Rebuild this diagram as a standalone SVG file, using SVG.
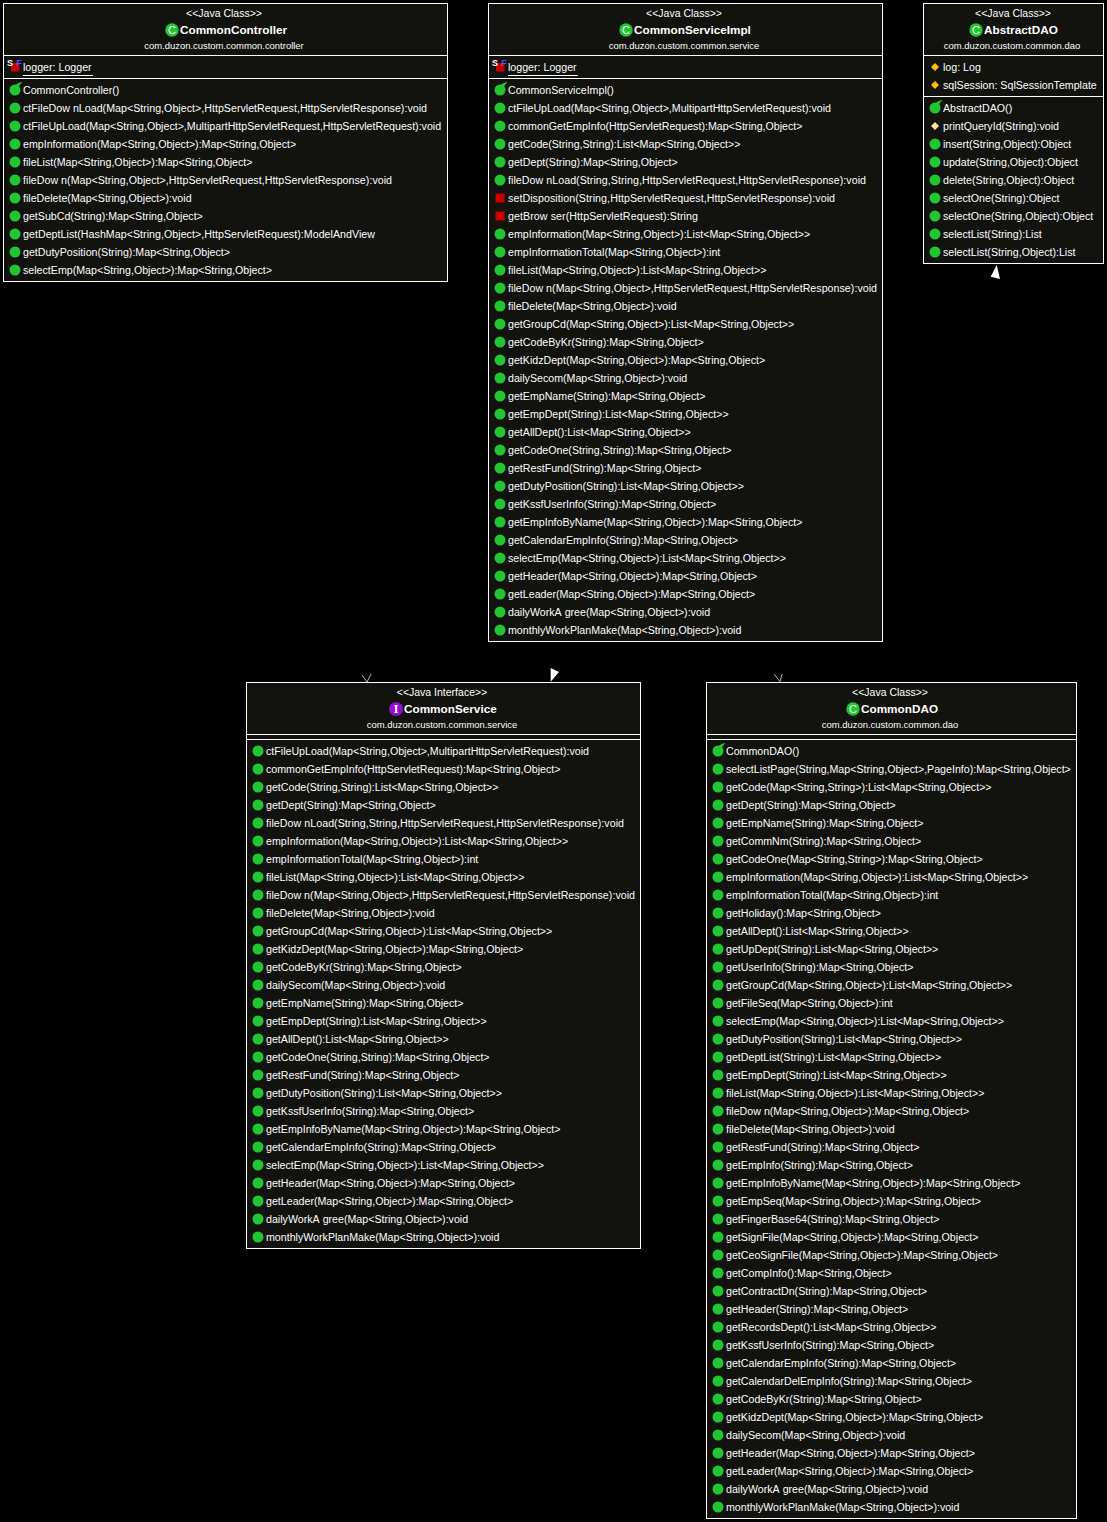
<svg xmlns="http://www.w3.org/2000/svg" width="1107" height="1522" viewBox="0 0 1107 1522">
<style>
text{font-family:"Liberation Sans",Arial,sans-serif;fill:#fff;font-size:10.65px}
.b{fill:#12120f;stroke:#fff;stroke-width:1}
.s{stroke:#fff;stroke-width:1;fill:none}
.st{text-anchor:middle;font-size:10.5px}
.n{font-weight:bold;font-size:11.75px}
.p{text-anchor:middle;font-size:9.45px}
.g{fill:#22c632}
.r{fill:#c80000}
.y{fill:#fcc200}
.yl{fill:#ffe29a}
.l{font-size:11px;fill:#fff;text-anchor:middle}
.i{font-family:"Liberation Serif",serif;font-size:12px;font-weight:bold}
.sf{font-size:9px;font-weight:bold}
</style>
<defs>
<circle id="m" r="5.5" class="g"/>
<g id="k"><circle r="5.5" class="g"/><path d="M0.500 -4.500Q2.500 -7.500 7.500 -8Q4.500 -5.500 4 -2.500Z" class="g"/></g>
<rect id="q" x="-4.500" y="-4.500" width="9" height="9" class="r"/>
<path id="d" d="M0 -4L4 0L0 4L-4 0Z" class="y"/>
<path id="dl" d="M0 -4L4 0L0 4L-4 0Z" class="yl"/>
<g id="sfm"><rect x="-4" y="-3" width="8.500" height="8.500" class="r"/><text x="-5" y="-0.500" class="sf" text-anchor="middle">S</text><text x="4" y="-0.500" class="sf" text-anchor="middle" style="fill:#4a5cff">F</text></g>
</defs>
<rect width="1107" height="1522" fill="#000"/>
<g id="connectors">
<path class="s" d="M362 675L367 682L371 674" style="stroke:#bbb"/>
<path d="M550.700 668L559 672L550.700 681.700Z" fill="#fff"/>
<path class="s" d="M774 674L780 681.700L782 674" style="stroke:#bbb"/>
<path d="M996.700 265L990.700 276.700L1000 279Z" fill="#fff"/>
</g>
<g id="CommonController">
<rect class="b" x="3.500" y="3.500" width="444" height="278"/>
<path class="s" d="M3.500 55.500H447.500M3.500 78.500H447.500M23 75.500H93"/>
<text class="st" x="224" y="17">&lt;&lt;Java Class&gt;&gt;</text>
<circle cx="172" cy="30" r="6.700" class="g"/><text class="l" x="172" y="34">C</text>
<text class="n" x="180" y="34">CommonController</text>
<text class="p" x="224" y="49">com.duzon.custom.common.controller</text>
<use href="#sfm" x="15" y="66"/><text x="23" y="71">logger: Logger</text>
<use href="#k" x="15" y="90"/><text x="23" y="94">CommonController()</text>
<use href="#m" x="15" y="108"/><text x="23" y="112" textLength="404">ctFileDow<tspan dx="3">n</tspan>Load(Map&lt;String,Object&gt;,HttpServletRequest,HttpServletResponse):void</text>
<use href="#m" x="15" y="126"/><text x="23" y="130">ctFileUpLoad(Map&lt;String,Object&gt;,MultipartHttpServletRequest,HttpServletRequest):void</text>
<use href="#m" x="15" y="144"/><text x="23" y="148">empInformation(Map&lt;String,Object&gt;):Map&lt;String,Object&gt;</text>
<use href="#m" x="15" y="162"/><text x="23" y="166">fileList(Map&lt;String,Object&gt;):Map&lt;String,Object&gt;</text>
<use href="#m" x="15" y="180"/><text x="23" y="184" textLength="369">fileDow<tspan dx="3">n</tspan>(Map&lt;String,Object&gt;,HttpServletRequest,HttpServletResponse):void</text>
<use href="#m" x="15" y="198"/><text x="23" y="202">fileDelete(Map&lt;String,Object&gt;):void</text>
<use href="#m" x="15" y="216"/><text x="23" y="220">getSubCd(String):Map&lt;String,Object&gt;</text>
<use href="#m" x="15" y="234"/><text x="23" y="238" textLength="352">getDeptList(HashMap&lt;String,Object&gt;,HttpServletRequest):ModelAndView</text>
<use href="#m" x="15" y="252"/><text x="23" y="256">getDutyPosition(String):Map&lt;String,Object&gt;</text>
<use href="#m" x="15" y="270"/><text x="23" y="274">selectEmp(Map&lt;String,Object&gt;):Map&lt;String,Object&gt;</text>
</g>
<g id="CommonServiceImpl">
<rect class="b" x="488.500" y="3.500" width="394" height="638"/>
<path class="s" d="M488.500 55.500H882.500M488.500 78.500H882.500M508 75.500H578"/>
<text class="st" x="684" y="17">&lt;&lt;Java Class&gt;&gt;</text>
<circle cx="626" cy="30" r="6.700" class="g"/><text class="l" x="626" y="34">C</text>
<text class="n" x="634" y="34">CommonServiceImpl</text>
<text class="p" x="684" y="49">com.duzon.custom.common.service</text>
<use href="#sfm" x="500" y="66"/><text x="508" y="71">logger: Logger</text>
<use href="#k" x="500" y="90"/><text x="508" y="94">CommonServiceImpl()</text>
<use href="#m" x="500" y="108"/><text x="508" y="112">ctFileUpLoad(Map&lt;String,Object&gt;,MultipartHttpServletRequest):void</text>
<use href="#m" x="500" y="126"/><text x="508" y="130">commonGetEmpInfo(HttpServletRequest):Map&lt;String,Object&gt;</text>
<use href="#m" x="500" y="144"/><text x="508" y="148">getCode(String,String):List&lt;Map&lt;String,Object&gt;&gt;</text>
<use href="#m" x="500" y="162"/><text x="508" y="166">getDept(String):Map&lt;String,Object&gt;</text>
<use href="#m" x="500" y="180"/><text x="508" y="184" textLength="358">fileDow<tspan dx="3">n</tspan>Load(String,String,HttpServletRequest,HttpServletResponse):void</text>
<use href="#q" x="500" y="198"/><text x="508" y="202" textLength="327">setDisposition(String,HttpServletRequest,HttpServletResponse):void</text>
<use href="#q" x="500" y="216"/><text x="508" y="220" textLength="190">getBrow<tspan dx="3">s</tspan>er(HttpServletRequest):String</text>
<use href="#m" x="500" y="234"/><text x="508" y="238">empInformation(Map&lt;String,Object&gt;):List&lt;Map&lt;String,Object&gt;&gt;</text>
<use href="#m" x="500" y="252"/><text x="508" y="256">empInformationTotal(Map&lt;String,Object&gt;):int</text>
<use href="#m" x="500" y="270"/><text x="508" y="274">fileList(Map&lt;String,Object&gt;):List&lt;Map&lt;String,Object&gt;&gt;</text>
<use href="#m" x="500" y="288"/><text x="508" y="292" textLength="369">fileDow<tspan dx="3">n</tspan>(Map&lt;String,Object&gt;,HttpServletRequest,HttpServletResponse):void</text>
<use href="#m" x="500" y="306"/><text x="508" y="310">fileDelete(Map&lt;String,Object&gt;):void</text>
<use href="#m" x="500" y="324"/><text x="508" y="328">getGroupCd(Map&lt;String,Object&gt;):List&lt;Map&lt;String,Object&gt;&gt;</text>
<use href="#m" x="500" y="342"/><text x="508" y="346">getCodeByKr(String):Map&lt;String,Object&gt;</text>
<use href="#m" x="500" y="360"/><text x="508" y="364">getKidzDept(Map&lt;String,Object&gt;):Map&lt;String,Object&gt;</text>
<use href="#m" x="500" y="378"/><text x="508" y="382">dailySecom(Map&lt;String,Object&gt;):void</text>
<use href="#m" x="500" y="396"/><text x="508" y="400">getEmpName(String):Map&lt;String,Object&gt;</text>
<use href="#m" x="500" y="414"/><text x="508" y="418">getEmpDept(String):List&lt;Map&lt;String,Object&gt;&gt;</text>
<use href="#m" x="500" y="432"/><text x="508" y="436">getAllDept():List&lt;Map&lt;String,Object&gt;&gt;</text>
<use href="#m" x="500" y="450"/><text x="508" y="454">getCodeOne(String,String):Map&lt;String,Object&gt;</text>
<use href="#m" x="500" y="468"/><text x="508" y="472">getRestFund(String):Map&lt;String,Object&gt;</text>
<use href="#m" x="500" y="486"/><text x="508" y="490">getDutyPosition(String):List&lt;Map&lt;String,Object&gt;&gt;</text>
<use href="#m" x="500" y="504"/><text x="508" y="508">getKssfUserInfo(String):Map&lt;String,Object&gt;</text>
<use href="#m" x="500" y="522"/><text x="508" y="526">getEmpInfoByName(Map&lt;String,Object&gt;):Map&lt;String,Object&gt;</text>
<use href="#m" x="500" y="540"/><text x="508" y="544">getCalendarEmpInfo(String):Map&lt;String,Object&gt;</text>
<use href="#m" x="500" y="558"/><text x="508" y="562">selectEmp(Map&lt;String,Object&gt;):List&lt;Map&lt;String,Object&gt;&gt;</text>
<use href="#m" x="500" y="576"/><text x="508" y="580">getHeader(Map&lt;String,Object&gt;):Map&lt;String,Object&gt;</text>
<use href="#m" x="500" y="594"/><text x="508" y="598">getLeader(Map&lt;String,Object&gt;):Map&lt;String,Object&gt;</text>
<use href="#m" x="500" y="612"/><text x="508" y="616">dailyWorkA<tspan dx="3">g</tspan>ree(Map&lt;String,Object&gt;):void</text>
<use href="#m" x="500" y="630"/><text x="508" y="634">monthlyWorkPlanMake(Map&lt;String,Object&gt;):void</text>
</g>
<g id="AbstractDAO">
<rect class="b" x="923.500" y="3.500" width="180" height="260"/>
<path class="s" d="M923.500 55.500H1103.500M923.500 96.500H1103.500"/>
<text class="st" x="1013" y="17">&lt;&lt;Java Class&gt;&gt;</text>
<circle cx="976" cy="30" r="6.700" class="g"/><text class="l" x="976" y="34">C</text>
<text class="n" x="984" y="34">AbstractDAO</text>
<text class="p" x="1012" y="49">com.duzon.custom.common.dao</text>
<use href="#d" x="935" y="67"/><text x="943" y="71">log: Log</text>
<use href="#d" x="935" y="85"/><text x="943" y="89">sqlSession: SqlSessionTemplate</text>
<use href="#k" x="935" y="108"/><text x="943" y="112">AbstractDAO()</text>
<use href="#dl" x="935" y="126"/><text x="943" y="130">printQueryId(String):void</text>
<use href="#m" x="935" y="144"/><text x="943" y="148">insert(String,Object):Object</text>
<use href="#m" x="935" y="162"/><text x="943" y="166">update(String,Object):Object</text>
<use href="#m" x="935" y="180"/><text x="943" y="184">delete(String,Object):Object</text>
<use href="#m" x="935" y="198"/><text x="943" y="202">selectOne(String):Object</text>
<use href="#m" x="935" y="216"/><text x="943" y="220">selectOne(String,Object):Object</text>
<use href="#m" x="935" y="234"/><text x="943" y="238">selectList(String):List</text>
<use href="#m" x="935" y="252"/><text x="943" y="256">selectList(String,Object):List</text>
</g>
<g id="CommonService">
<rect class="b" x="246.500" y="682.500" width="394" height="566"/>
<path class="s" d="M246.500 734.500H640.500M246.500 739.500H640.500"/>
<text class="st" x="442" y="696">&lt;&lt;Java Interface&gt;&gt;</text>
<circle cx="396" cy="709" r="7" fill="#9210cc"/><text class="l i" x="396" y="713">I</text>
<text class="n" x="404" y="713">CommonService</text>
<text class="p" x="442" y="728">com.duzon.custom.common.service</text>
<use href="#m" x="258" y="751"/><text x="266" y="755">ctFileUpLoad(Map&lt;String,Object&gt;,MultipartHttpServletRequest):void</text>
<use href="#m" x="258" y="769"/><text x="266" y="773">commonGetEmpInfo(HttpServletRequest):Map&lt;String,Object&gt;</text>
<use href="#m" x="258" y="787"/><text x="266" y="791">getCode(String,String):List&lt;Map&lt;String,Object&gt;&gt;</text>
<use href="#m" x="258" y="805"/><text x="266" y="809">getDept(String):Map&lt;String,Object&gt;</text>
<use href="#m" x="258" y="823"/><text x="266" y="827" textLength="358">fileDow<tspan dx="3">n</tspan>Load(String,String,HttpServletRequest,HttpServletResponse):void</text>
<use href="#m" x="258" y="841"/><text x="266" y="845">empInformation(Map&lt;String,Object&gt;):List&lt;Map&lt;String,Object&gt;&gt;</text>
<use href="#m" x="258" y="859"/><text x="266" y="863">empInformationTotal(Map&lt;String,Object&gt;):int</text>
<use href="#m" x="258" y="877"/><text x="266" y="881">fileList(Map&lt;String,Object&gt;):List&lt;Map&lt;String,Object&gt;&gt;</text>
<use href="#m" x="258" y="895"/><text x="266" y="899" textLength="369">fileDow<tspan dx="3">n</tspan>(Map&lt;String,Object&gt;,HttpServletRequest,HttpServletResponse):void</text>
<use href="#m" x="258" y="913"/><text x="266" y="917">fileDelete(Map&lt;String,Object&gt;):void</text>
<use href="#m" x="258" y="931"/><text x="266" y="935">getGroupCd(Map&lt;String,Object&gt;):List&lt;Map&lt;String,Object&gt;&gt;</text>
<use href="#m" x="258" y="949"/><text x="266" y="953">getKidzDept(Map&lt;String,Object&gt;):Map&lt;String,Object&gt;</text>
<use href="#m" x="258" y="967"/><text x="266" y="971">getCodeByKr(String):Map&lt;String,Object&gt;</text>
<use href="#m" x="258" y="985"/><text x="266" y="989">dailySecom(Map&lt;String,Object&gt;):void</text>
<use href="#m" x="258" y="1003"/><text x="266" y="1007">getEmpName(String):Map&lt;String,Object&gt;</text>
<use href="#m" x="258" y="1021"/><text x="266" y="1025">getEmpDept(String):List&lt;Map&lt;String,Object&gt;&gt;</text>
<use href="#m" x="258" y="1039"/><text x="266" y="1043">getAllDept():List&lt;Map&lt;String,Object&gt;&gt;</text>
<use href="#m" x="258" y="1057"/><text x="266" y="1061">getCodeOne(String,String):Map&lt;String,Object&gt;</text>
<use href="#m" x="258" y="1075"/><text x="266" y="1079">getRestFund(String):Map&lt;String,Object&gt;</text>
<use href="#m" x="258" y="1093"/><text x="266" y="1097">getDutyPosition(String):List&lt;Map&lt;String,Object&gt;&gt;</text>
<use href="#m" x="258" y="1111"/><text x="266" y="1115">getKssfUserInfo(String):Map&lt;String,Object&gt;</text>
<use href="#m" x="258" y="1129"/><text x="266" y="1133">getEmpInfoByName(Map&lt;String,Object&gt;):Map&lt;String,Object&gt;</text>
<use href="#m" x="258" y="1147"/><text x="266" y="1151">getCalendarEmpInfo(String):Map&lt;String,Object&gt;</text>
<use href="#m" x="258" y="1165"/><text x="266" y="1169">selectEmp(Map&lt;String,Object&gt;):List&lt;Map&lt;String,Object&gt;&gt;</text>
<use href="#m" x="258" y="1183"/><text x="266" y="1187">getHeader(Map&lt;String,Object&gt;):Map&lt;String,Object&gt;</text>
<use href="#m" x="258" y="1201"/><text x="266" y="1205">getLeader(Map&lt;String,Object&gt;):Map&lt;String,Object&gt;</text>
<use href="#m" x="258" y="1219"/><text x="266" y="1223">dailyWorkA<tspan dx="3">g</tspan>ree(Map&lt;String,Object&gt;):void</text>
<use href="#m" x="258" y="1237"/><text x="266" y="1241">monthlyWorkPlanMake(Map&lt;String,Object&gt;):void</text>
</g>
<g id="CommonDAO">
<rect class="b" x="706.500" y="682.500" width="370" height="836"/>
<path class="s" d="M706.500 734.500H1076.500M706.500 739.500H1076.500"/>
<text class="st" x="890" y="696">&lt;&lt;Java Class&gt;&gt;</text>
<circle cx="853" cy="709" r="6.700" class="g"/><text class="l" x="853" y="713">C</text>
<text class="n" x="861" y="713">CommonDAO</text>
<text class="p" x="890" y="728">com.duzon.custom.common.dao</text>
<use href="#k" x="718" y="751"/><text x="726" y="755">CommonDAO()</text>
<use href="#m" x="718" y="769"/><text x="726" y="773">selectListPage(String,Map&lt;String,Object&gt;,PageInfo):Map&lt;String,Object&gt;</text>
<use href="#m" x="718" y="787"/><text x="726" y="791">getCode(Map&lt;String,String&gt;):List&lt;Map&lt;String,Object&gt;&gt;</text>
<use href="#m" x="718" y="805"/><text x="726" y="809">getDept(String):Map&lt;String,Object&gt;</text>
<use href="#m" x="718" y="823"/><text x="726" y="827">getEmpName(String):Map&lt;String,Object&gt;</text>
<use href="#m" x="718" y="841"/><text x="726" y="845">getCommNm(String):Map&lt;String,Object&gt;</text>
<use href="#m" x="718" y="859"/><text x="726" y="863">getCodeOne(Map&lt;String,String&gt;):Map&lt;String,Object&gt;</text>
<use href="#m" x="718" y="877"/><text x="726" y="881">empInformation(Map&lt;String,Object&gt;):List&lt;Map&lt;String,Object&gt;&gt;</text>
<use href="#m" x="718" y="895"/><text x="726" y="899">empInformationTotal(Map&lt;String,Object&gt;):int</text>
<use href="#m" x="718" y="913"/><text x="726" y="917">getHoliday():Map&lt;String,Object&gt;</text>
<use href="#m" x="718" y="931"/><text x="726" y="935">getAllDept():List&lt;Map&lt;String,Object&gt;&gt;</text>
<use href="#m" x="718" y="949"/><text x="726" y="953">getUpDept(String):List&lt;Map&lt;String,Object&gt;&gt;</text>
<use href="#m" x="718" y="967"/><text x="726" y="971">getUserInfo(String):Map&lt;String,Object&gt;</text>
<use href="#m" x="718" y="985"/><text x="726" y="989">getGroupCd(Map&lt;String,Object&gt;):List&lt;Map&lt;String,Object&gt;&gt;</text>
<use href="#m" x="718" y="1003"/><text x="726" y="1007">getFileSeq(Map&lt;String,Object&gt;):int</text>
<use href="#m" x="718" y="1021"/><text x="726" y="1025">selectEmp(Map&lt;String,Object&gt;):List&lt;Map&lt;String,Object&gt;&gt;</text>
<use href="#m" x="718" y="1039"/><text x="726" y="1043">getDutyPosition(String):List&lt;Map&lt;String,Object&gt;&gt;</text>
<use href="#m" x="718" y="1057"/><text x="726" y="1061">getDeptList(String):List&lt;Map&lt;String,Object&gt;&gt;</text>
<use href="#m" x="718" y="1075"/><text x="726" y="1079">getEmpDept(String):List&lt;Map&lt;String,Object&gt;&gt;</text>
<use href="#m" x="718" y="1093"/><text x="726" y="1097">fileList(Map&lt;String,Object&gt;):List&lt;Map&lt;String,Object&gt;&gt;</text>
<use href="#m" x="718" y="1111"/><text x="726" y="1115">fileDow<tspan dx="3">n</tspan>(Map&lt;String,Object&gt;):Map&lt;String,Object&gt;</text>
<use href="#m" x="718" y="1129"/><text x="726" y="1133">fileDelete(Map&lt;String,Object&gt;):void</text>
<use href="#m" x="718" y="1147"/><text x="726" y="1151">getRestFund(String):Map&lt;String,Object&gt;</text>
<use href="#m" x="718" y="1165"/><text x="726" y="1169">getEmpInfo(String):Map&lt;String,Object&gt;</text>
<use href="#m" x="718" y="1183"/><text x="726" y="1187">getEmpInfoByName(Map&lt;String,Object&gt;):Map&lt;String,Object&gt;</text>
<use href="#m" x="718" y="1201"/><text x="726" y="1205">getEmpSeq(Map&lt;String,Object&gt;):Map&lt;String,Object&gt;</text>
<use href="#m" x="718" y="1219"/><text x="726" y="1223">getFingerBase64(String):Map&lt;String,Object&gt;</text>
<use href="#m" x="718" y="1237"/><text x="726" y="1241">getSignFile(Map&lt;String,Object&gt;):Map&lt;String,Object&gt;</text>
<use href="#m" x="718" y="1255"/><text x="726" y="1259">getCeoSignFile(Map&lt;String,Object&gt;):Map&lt;String,Object&gt;</text>
<use href="#m" x="718" y="1273"/><text x="726" y="1277">getCompInfo():Map&lt;String,Object&gt;</text>
<use href="#m" x="718" y="1291"/><text x="726" y="1295">getContractDn(String):Map&lt;String,Object&gt;</text>
<use href="#m" x="718" y="1309"/><text x="726" y="1313">getHeader(String):Map&lt;String,Object&gt;</text>
<use href="#m" x="718" y="1327"/><text x="726" y="1331">getRecordsDept():List&lt;Map&lt;String,Object&gt;&gt;</text>
<use href="#m" x="718" y="1345"/><text x="726" y="1349">getKssfUserInfo(String):Map&lt;String,Object&gt;</text>
<use href="#m" x="718" y="1363"/><text x="726" y="1367">getCalendarEmpInfo(String):Map&lt;String,Object&gt;</text>
<use href="#m" x="718" y="1381"/><text x="726" y="1385">getCalendarDelEmpInfo(String):Map&lt;String,Object&gt;</text>
<use href="#m" x="718" y="1399"/><text x="726" y="1403">getCodeByKr(String):Map&lt;String,Object&gt;</text>
<use href="#m" x="718" y="1417"/><text x="726" y="1421">getKidzDept(Map&lt;String,Object&gt;):Map&lt;String,Object&gt;</text>
<use href="#m" x="718" y="1435"/><text x="726" y="1439">dailySecom(Map&lt;String,Object&gt;):void</text>
<use href="#m" x="718" y="1453"/><text x="726" y="1457">getHeader(Map&lt;String,Object&gt;):Map&lt;String,Object&gt;</text>
<use href="#m" x="718" y="1471"/><text x="726" y="1475">getLeader(Map&lt;String,Object&gt;):Map&lt;String,Object&gt;</text>
<use href="#m" x="718" y="1489"/><text x="726" y="1493">dailyWorkA<tspan dx="3">g</tspan>ree(Map&lt;String,Object&gt;):void</text>
<use href="#m" x="718" y="1507"/><text x="726" y="1511">monthlyWorkPlanMake(Map&lt;String,Object&gt;):void</text>
</g>
</svg>
